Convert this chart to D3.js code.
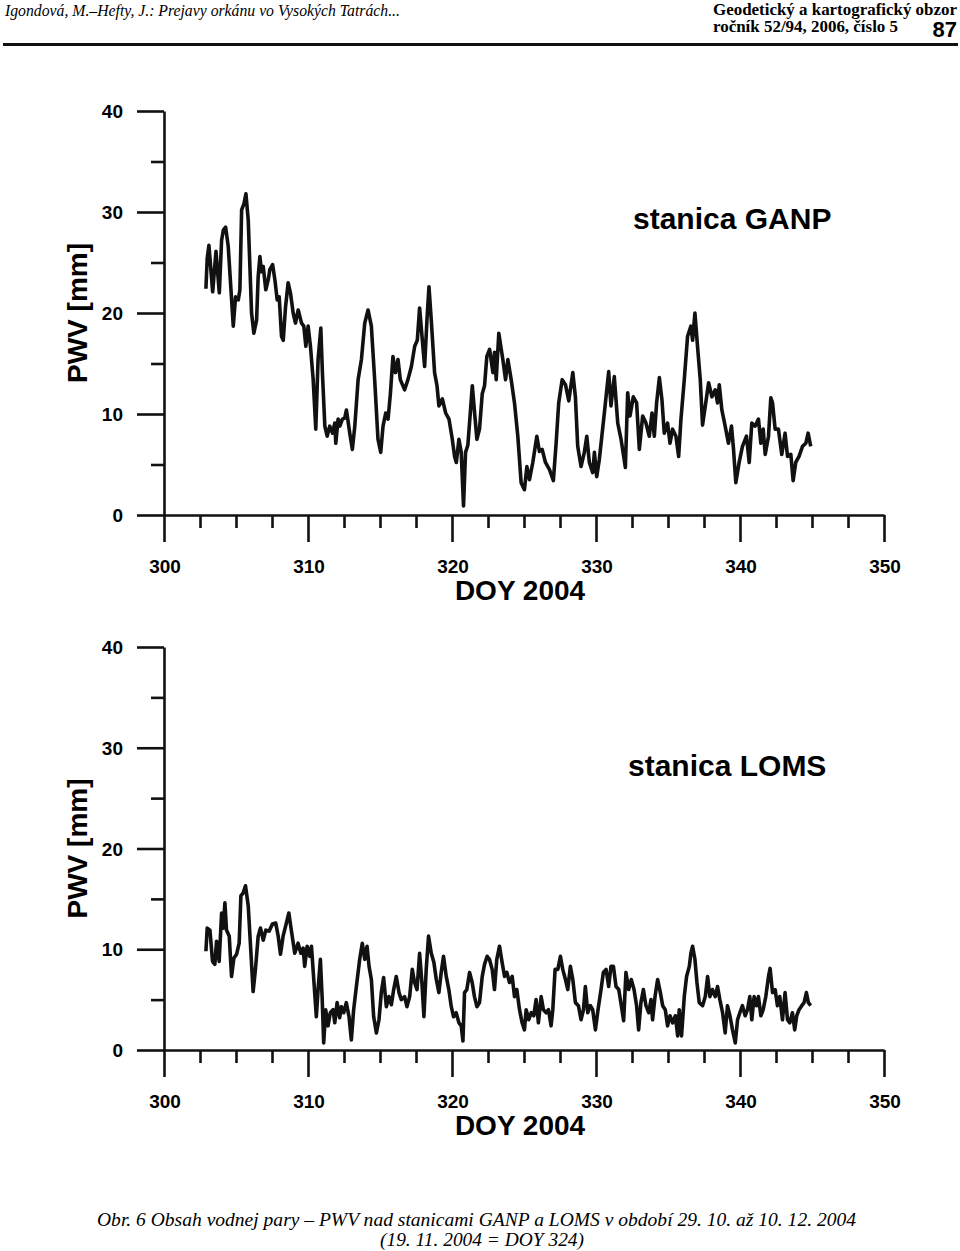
<!DOCTYPE html>
<html>
<head>
<meta charset="utf-8">
<script src="https://cdn.jsdelivr.net/npm/d3@7"></script>
<style>
    body { margin: 0; background: #fff; }
    svg { display: block; }
</style>
</head>
<body>
<div id="chart"></div>
<script>

// ticks
var xMajor = [300, 310, 320, 330, 340, 350];
var xMinor = [302.5, 305, 307.5, 312.5, 315, 317.5, 322.5, 325, 327.5, 332.5, 335, 337.5, 342.5, 345, 347.5];
var yMajor = [0, 10, 20, 30, 40];
var yMinor = [5, 15, 25, 35];

// stanica GANP - PWV [mm] vs DOY 2004
var ganpDoy = [302.91, 303.00, 303.12, 303.38, 303.61, 303.84, 304.00, 304.12, 304.28, 304.46, 304.81, 304.97, 305.16, 305.27, 305.39, 305.55, 305.69, 305.85, 306.08, 306.24, 306.43, 306.54, 306.66, 306.77, 306.89, 307.07, 307.24, 307.35, 307.54, 307.70, 307.86, 308.00, 308.16, 308.28, 308.44, 308.62, 308.78, 308.97, 309.13, 309.32, 309.55, 309.71, 309.85, 310.01, 310.17, 310.36, 310.54, 310.70, 310.89, 311.00, 311.17, 311.33, 311.51, 311.70, 311.86, 311.93, 312.09, 312.21, 312.39, 312.55, 312.67, 312.90, 313.08, 313.25, 313.48, 313.71, 313.94, 314.17, 314.40, 314.63, 314.86, 315.05, 315.21, 315.40, 315.56, 315.72, 315.90, 316.07, 316.25, 316.41, 316.71, 316.94, 317.18, 317.41, 317.59, 317.75, 317.94, 318.10, 318.26, 318.40, 318.56, 318.79, 318.96, 319.09, 319.33, 319.56, 319.79, 320.02, 320.18, 320.30, 320.48, 320.64, 320.80, 320.94, 321.10, 321.27, 321.41, 321.57, 321.73, 321.91, 322.10, 322.26, 322.42, 322.61, 322.84, 322.95, 323.07, 323.25,
    323.53, 323.72, 323.88, 324.11, 324.34, 324.57, 324.80, 325.03, 325.20, 325.38, 325.61, 325.89, 326.07, 326.26, 326.49, 326.77, 327.04, 327.23, 327.41, 327.65, 327.88, 328.11, 328.39, 328.57, 328.73, 328.96, 329.19, 329.36, 329.54, 329.77, 329.89, 330.05, 330.23, 330.58, 330.88, 331.04, 331.27, 331.51, 331.74, 332.04, 332.20, 332.36, 332.59, 332.82, 333.01, 333.24, 333.47, 333.70, 333.89, 334.05, 334.21, 334.40, 334.58, 334.74, 334.97, 335.14, 335.32, 335.55, 335.74, 335.90, 336.13, 336.36, 336.59, 336.71, 336.87, 337.05, 337.24, 337.40, 337.59, 337.82, 338.05, 338.28, 338.44, 338.56, 338.74, 338.97, 339.20, 339.41, 339.55, 339.71, 339.94, 340.17, 340.45, 340.64, 340.82, 341.05, 341.28, 341.45, 341.61, 341.75, 341.98, 342.14, 342.26, 342.44, 342.67, 342.90, 343.13, 343.30, 343.53, 343.69, 343.87, 344.10, 344.34, 344.57, 344.73, 344.91];
var ganpPwv = [22.4, 25.4, 26.7, 22.1, 26.1, 22.0, 27.2, 28.2, 28.5, 26.6, 18.7, 21.6, 21.3, 22.3, 30.2, 30.8, 31.8, 29.2, 20.0, 18.0, 19.3, 23.6, 25.6, 24.1, 24.6, 22.3, 23.3, 24.3, 24.8, 23.3, 21.3, 21.6, 17.7, 17.3, 20.6, 23.0, 22.0, 20.0, 19.0, 20.3, 19.0, 18.7, 16.7, 18.7, 16.7, 13.4, 8.5, 15.4, 18.5, 14.1, 8.8, 7.8, 8.8, 8.1, 9.1, 7.1, 9.5, 8.8, 9.5, 9.6, 10.4, 8.1, 6.5, 8.8, 13.4, 15.4, 19.0, 20.3, 18.7, 13.4, 7.5, 6.2, 8.8, 10.1, 9.5, 12.0, 15.7, 14.1, 15.4, 13.4, 12.4, 13.4, 14.7, 16.7, 17.3, 20.5, 17.3, 14.7, 19.3, 22.6, 19.3, 14.1, 12.8, 10.8, 11.5, 10.1, 9.5, 7.5, 5.8, 5.2, 7.5, 6.2, 0.9, 6.2, 6.9, 10.1, 12.8, 10.1, 7.5, 8.5, 12.0, 12.8, 15.7, 16.4, 14.1, 16.1, 13.4, 18.0,
    15.4, 13.4, 15.4, 13.4, 11.1, 7.8, 3.2, 2.5, 4.8, 3.5, 5.2, 7.8, 6.3, 6.5, 5.2, 4.5, 3.4, 7.1, 11.1, 13.4, 12.9, 11.3, 14.1, 11.7, 6.8, 4.8, 6.2, 7.8, 5.2, 4.2, 6.2, 3.8, 5.5, 10.1, 14.2, 10.8, 13.7, 9.1, 7.5, 4.7, 12.1, 9.8, 11.7, 11.1, 6.5, 9.8, 9.1, 7.8, 10.1, 7.8, 11.1, 13.6, 11.4, 8.1, 9.1, 7.1, 8.5, 7.8, 5.8, 9.5, 13.4, 17.7, 18.7, 17.3, 20.0, 16.7, 13.4, 8.9, 10.8, 13.1, 11.7, 12.4, 11.1, 12.9, 10.4, 8.8, 7.1, 8.8, 6.5, 3.2, 5.2, 6.8, 7.8, 5.2, 9.1, 8.8, 9.5, 7.1, 8.5, 6.0, 7.8, 11.6, 11.1, 8.5, 8.5, 6.0, 8.1, 5.8, 6.0, 3.4, 5.2, 5.8, 6.8, 7.1, 8.1, 6.8];

// stanica LOMS - PWV [mm] vs DOY 2004
var lomsDoy = [302.91, 303.00, 303.19, 303.37, 303.53, 303.65, 303.83, 304.00, 304.11, 304.23, 304.34, 304.53, 304.69, 304.85, 305.04, 305.22, 305.34, 305.50, 305.66, 305.85, 306.01, 306.19, 306.35, 306.54, 306.70, 306.89, 307.07, 307.30, 307.53, 307.76, 307.93, 308.09, 308.27, 308.50, 308.67, 308.85, 309.08, 309.31, 309.50, 309.66, 309.77, 309.94, 310.12, 310.24, 310.40, 310.58, 310.70, 310.86, 310.98, 311.09, 311.23, 311.39, 311.55, 311.74, 311.86, 312.02, 312.20, 312.32, 312.48, 312.66, 312.85, 313.01, 313.17, 313.36, 313.59, 313.77, 313.94, 314.10, 314.24, 314.40, 314.56, 314.75, 314.93, 315.09, 315.25, 315.44, 315.62, 315.79, 315.95, 316.13, 316.32, 316.48, 316.71, 316.87, 317.06, 317.24, 317.40, 317.57, 317.75, 317.91, 318.05, 318.21, 318.37, 318.56, 318.74, 318.91, 319.09, 319.25, 319.41, 319.60, 319.78, 319.95, 320.11, 320.29, 320.48, 320.64, 320.76, 320.87, 321.03, 321.22, 321.40, 321.56, 321.73, 321.91, 322.10, 322.26, 322.44, 322.60, 322.79, 322.95, 323.11,
    323.30, 323.48, 323.65, 323.81, 323.99, 324.18, 324.34, 324.50, 324.69, 324.87, 325.03, 325.15, 325.33, 325.50, 325.68, 325.84, 326.00, 326.19, 326.35, 326.54, 326.70, 326.88, 327.00, 327.16, 327.35, 327.53, 327.69, 327.88, 328.04, 328.22, 328.39, 328.57, 328.78, 328.96, 329.13, 329.26, 329.43, 329.61, 329.77, 329.96, 330.14, 330.35, 330.51, 330.70, 330.88, 331.04, 331.21, 331.39, 331.58, 331.76, 331.92, 332.08, 332.27, 332.45, 332.64, 332.82, 332.96, 333.12, 333.29, 333.47, 333.66, 333.82, 333.93, 334.10, 334.28, 334.47, 334.63, 334.81, 334.97, 335.14, 335.32, 335.51, 335.67, 335.78, 335.94, 336.13, 336.29, 336.48, 336.59, 336.71, 336.87, 337.01, 337.17, 337.40, 337.59, 337.75, 337.91, 338.09, 338.28, 338.44, 338.60, 338.79, 338.97, 339.13, 339.30, 339.48, 339.67, 339.83, 339.99, 340.17, 340.36, 340.52, 340.68, 340.82, 340.98, 341.15, 341.28, 341.45, 341.61, 341.79, 341.98, 342.09, 342.26, 342.44, 342.60, 342.76, 342.95, 343.13, 343.30, 343.46, 343.64, 343.80, 343.94, 344.10, 344.29, 344.45, 344.61, 344.75, 344.91];
var lomsPwv = [9.8, 12.1, 11.9, 8.8, 8.5, 10.8, 8.8, 13.6, 12.1, 14.6, 11.9, 11.3, 7.3, 9.1, 9.5, 10.6, 15.3, 15.6, 16.3, 14.3, 10.3, 5.8, 8.0, 11.3, 12.1, 10.9, 11.9, 11.8, 12.5, 12.6, 11.3, 9.5, 11.3, 12.6, 13.6, 11.8, 9.6, 10.6, 9.6, 10.1, 8.3, 10.3, 9.3, 10.3, 7.0, 3.3, 6.0, 9.0, 5.3, 0.7, 4.0, 2.4, 3.7, 4.0, 2.7, 4.7, 3.2, 4.3, 3.7, 4.7, 3.3, 1.0, 4.0, 6.3, 9.0, 10.6, 9.0, 10.3, 8.3, 7.0, 3.3, 1.7, 3.0, 5.7, 7.2, 4.3, 5.3, 4.5, 6.0, 7.3, 5.7, 5.0, 5.3, 4.3, 5.3, 8.0, 6.7, 6.0, 9.6, 6.7, 3.3, 8.0, 11.3, 9.6, 8.7, 7.0, 5.7, 7.7, 9.3, 7.3, 6.0, 4.3, 3.3, 3.7, 2.7, 2.4, 0.9, 5.7, 6.0, 7.7, 6.7, 5.3, 4.3, 4.7, 7.3, 8.5, 9.3, 9.0, 8.0, 6.0, 9.0,
    10.3, 8.7, 7.3, 7.7, 6.7, 7.3, 5.3, 6.0, 4.0, 2.7, 2.0, 4.0, 3.0, 3.7, 3.4, 5.0, 2.7, 5.3, 4.0, 3.7, 4.0, 2.4, 4.0, 8.0, 8.0, 9.3, 8.0, 7.0, 6.0, 8.3, 7.0, 4.7, 4.4, 3.0, 4.0, 6.3, 3.7, 4.4, 4.0, 2.0, 4.0, 6.0, 7.7, 8.0, 6.3, 8.3, 8.3, 6.3, 6.0, 4.4, 2.9, 7.7, 6.0, 7.0, 6.0, 4.4, 2.0, 4.7, 6.0, 4.4, 3.7, 5.0, 3.0, 5.3, 7.0, 5.7, 4.4, 4.0, 2.4, 3.4, 2.7, 3.4, 1.4, 4.0, 1.4, 5.3, 7.3, 8.3, 9.6, 10.3, 9.0, 6.7, 4.7, 4.4, 5.3, 7.3, 5.3, 6.0, 5.3, 6.3, 5.0, 3.7, 1.7, 4.4, 3.4, 2.0, 0.7, 3.0, 3.7, 4.4, 3.4, 4.0, 5.3, 3.0, 5.3, 4.4, 5.3, 3.4, 4.0, 5.3, 7.3, 8.1, 5.7, 6.0, 4.4, 5.3, 3.0, 5.7, 3.0, 2.7, 3.7, 2.0, 3.4, 4.0, 4.4, 4.7, 5.7, 4.7, 4.4];

var width = 960, height = 1251;
var sans = "'Liberation Sans', Arial, sans-serif";
var serif = "'Liberation Serif', 'Times New Roman', serif";

var svg = d3.select("#chart").append("svg")
    .attr("width", width)
    .attr("height", height);

svg.append("rect").attr("width", width).attr("height", height).style("fill", "#fff");

// page header
function drawHeader() {
    svg.append("text")
        .attr("x", 5).attr("y", 16)
        .attr("textLength", 395).attr("lengthAdjust", "spacingAndGlyphs")
        .style("font", "italic 17px " + serif)
        .text("Igondová, M.–Hefty, J.: Prejavy orkánu vo Vysokých Tatrách...");

    svg.append("text")
        .attr("x", 713).attr("y", 15)
        .attr("textLength", 244).attr("lengthAdjust", "spacingAndGlyphs")
        .style("font", "bold 17px " + serif)
        .text("Geodetický a kartografický obzor");

    svg.append("text")
        .attr("x", 713).attr("y", 32)
        .attr("textLength", 185).attr("lengthAdjust", "spacingAndGlyphs")
        .style("font", "bold 17px " + serif)
        .text("ročník 52/94, 2006, číslo 5");

    svg.append("text")
        .attr("x", 957).attr("y", 37)
        .attr("text-anchor", "end")
        .style("font", "bold 22px " + sans)
        .text("87");

    svg.append("rect")
        .attr("x", 3).attr("y", 43)
        .attr("width", 955).attr("height", 3)
        .style("fill", "#111");
}

function drawPanel(p) {
    var x = d3.scaleLinear().domain([300, 350]).range([164, 884]);
    var y = d3.scaleLinear().domain([0, 40]).range([p.bottom, p.top]);
    var g = svg.append("g");

    // x axis, major + minor ticks pointing down
    g.append("g")
        .attr("transform", "translate(0," + p.bottom + ")")
        .call(d3.axisBottom(x).tickValues(xMajor).tickSize(27).tickSizeOuter(0).tickFormat(""));
    g.append("g")
        .attr("transform", "translate(0," + p.bottom + ")")
        .call(d3.axisBottom(x).tickValues(xMinor).tickSize(13).tickFormat(""))
        .select(".domain").remove();

    // y axis
    g.append("g")
        .attr("transform", "translate(164,0)")
        .call(d3.axisLeft(y).tickValues(yMajor).tickSize(27).tickSizeOuter(0).tickFormat(""));
    g.append("g")
        .attr("transform", "translate(164,0)")
        .call(d3.axisLeft(y).tickValues(yMinor).tickSize(13).tickFormat(""))
        .select(".domain").remove();

    g.selectAll(".domain, .tick line")
        .style("stroke", "#111")
        .style("stroke-width", 2.6);

    // tick labels
    g.selectAll(".xLbl").data(xMajor).enter().append("text")
        .classed("xLbl", true)
        .attr("x", function (d) {
            return x(d) + 1
        })
        .attr("y", p.bottom + 58)
        .attr("text-anchor", "middle")
        .style("font", "bold 19px " + sans)
        .text(function (d) {
            return d;
        });

    g.selectAll(".yLbl").data(yMajor).enter().append("text")
        .classed("yLbl", true)
        .attr("x", 123)
        .attr("y", function (d) {
            return y(d) + 7
        })
        .attr("text-anchor", "end")
        .style("font", "bold 19px " + sans)
        .text(function (d) {
            return d;
        });

    // axis titles
    g.append("text")
        .attr("x", 520).attr("y", p.bottom + 85)
        .attr("text-anchor", "middle")
        .style("font", "bold 28px " + sans)
        .text("DOY 2004");

    g.append("text")
        .attr("transform", "translate(87," + y(20) + ") rotate(-90)")
        .attr("text-anchor", "middle")
        .style("font", "bold 28px " + sans)
        .text("PWV [mm]");

    g.append("text")
        .attr("x", p.labelX).attr("y", p.labelY)
        .style("font", "bold 30px " + sans)
        .text(p.label);

    // series
    var pts = p.doy.map(function (d, i) {
        return [d, p.pwv[i]];
    });
    var line = d3.line()
        .x(function (d) { return x(d[0]) })
        .y(function (d) { return y(d[1]) });

    g.append("path")
        .datum(pts)
        .attr("d", line)
        .style("fill", "none")
        .style("stroke", "#111")
        .style("stroke-width", 3.6)
        .style("stroke-linejoin", "round");
}

function drawCaption() {
    svg.append("text")
        .attr("x", 97).attr("y", 1226)
        .attr("textLength", 759).attr("lengthAdjust", "spacingAndGlyphs")
        .style("font", "italic 18px " + serif)
        .text("Obr. 6 Obsah vodnej pary – PWV nad stanicami GANP a LOMS v období 29. 10. až 10. 12. 2004");

    svg.append("text")
        .attr("x", 380).attr("y", 1246)
        .attr("textLength", 204).attr("lengthAdjust", "spacingAndGlyphs")
        .style("font", "italic 18px " + serif)
        .text("(19. 11. 2004 = DOY 324)");
}

drawHeader();
drawPanel({doy: ganpDoy, pwv: ganpPwv, label: "stanica GANP", top: 111, bottom: 515, labelX: 633, labelY: 229});
drawPanel({doy: lomsDoy, pwv: lomsPwv, label: "stanica LOMS", top: 647, bottom: 1050, labelX: 628, labelY: 776});
drawCaption();

</script>
</body>
</html>
